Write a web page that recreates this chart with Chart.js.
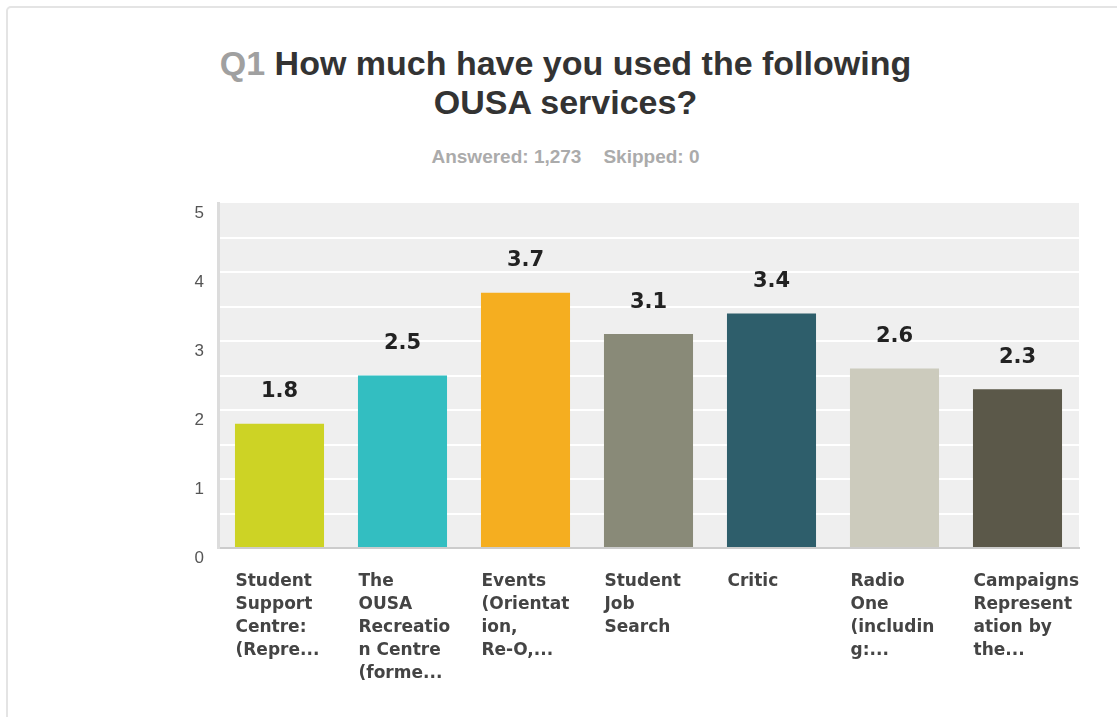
<!DOCTYPE html>
<html>
<head>
<meta charset="utf-8">
<script src="https://cdn.jsdelivr.net/npm/chart.js@4"></script>
<style>
    html, body {
        margin: 0;
        padding: 0;
        width: 1117px;
        height: 717px;
        overflow: hidden;
        background: #fff;
    }
    .card {
        position: absolute;
        left: 6px;
        top: 6px;
        width: 1200px;
        height: 800px;
        border: 2px solid #e4e4e4;
        border-radius: 5px;
        box-sizing: border-box;
    }
    .titolo {
        position: absolute;
        left: 0;
        top: 44px;
        width: 1131px;
        text-align: center;
        font: bold 34px "Liberation Sans", Arial, sans-serif;
        line-height: 39px;
        color: #333;
    }
    .titolo .num {
        color: #a0a0a0;
    }
    .sottotitolo {
        position: absolute;
        left: 0;
        top: 146px;
        width: 1131px;
        text-align: center;
        font: bold 19px "Liberation Sans", Arial, sans-serif;
        line-height: 22px;
        color: #ababab;
    }
    .sottotitolo span + span {
        margin-left: 22px;
    }
    #grafico {
        position: absolute;
        left: 0;
        top: 0;
    }
</style>
</head>
<body>
<div class="card"></div>
<div class="titolo"><span class="num">Q1</span> How much have you used the following<br>OUSA services?</div>
<div class="sottotitolo"><span>Answered: 1,273</span><span>Skipped: 0</span></div>
<canvas id="grafico" width="1117" height="717"></canvas>

<script>
/* =======================
   DATI
======================= */

const categorie = [
    ["Student", "Support", "Centre:", "(Repre..."],
    ["The", "OUSA", "Recreatio", "n Centre", "(forme..."],
    ["Events", "(Orientat", "ion,", "Re-O,..."],
    ["Student", "Job", "Search"],
    ["Critic"],
    ["Radio", "One", "(includin", "g:..."],
    ["Campaigns", "Represent", "ation by", "the..."]
];

const medie = [1.8, 2.5, 3.7, 3.1, 3.4, 2.6, 2.3];

const colori = ["#cdd325", "#33bec1", "#f5ae20", "#898a78", "#2e5e6b", "#cccbbd", "#5b5849"];

const yMin = 0;
const yMax = 5;
const yPasso = 0.5;

/* =======================
   PLUGIN
======================= */

// sfondo grigio dell'area del grafico
const sfondoArea = {
    id: "sfondoArea",
    beforeDraw(chart) {
        const { ctx, chartArea: a } = chart;
        ctx.save();
        ctx.fillStyle = "#efefef";
        ctx.fillRect(a.left, a.top, a.right - a.left, a.bottom - a.top);
        ctx.restore();
    }
};

// valori sopra le barre
const etichetteValori = {
    id: "etichetteValori",
    afterDatasetsDraw(chart) {
        const { ctx } = chart;
        const meta = chart.getDatasetMeta(0);
        ctx.save();
        ctx.font = "bold 21px 'DejaVu Sans', Verdana, sans-serif";
        ctx.fillStyle = "#222";
        ctx.textAlign = "center";
        ctx.textBaseline = "middle";
        meta.data.forEach((bar, i) => {
            ctx.fillText(medie[i].toFixed(1), bar.x, bar.y - 32);
        });
        ctx.restore();
    }
};

/* =======================
   GRAFICO
======================= */

new Chart(document.getElementById("grafico"), {
    type: "bar",
    data: {
        labels: categorie,
        datasets: [{
            data: medie,
            backgroundColor: colori,
            borderWidth: 0,
            barPercentage: 0.724,
            categoryPercentage: 1
        }]
    },
    options: {
        responsive: false,
        animation: false,
        layout: {
            padding: { left: 150, right: 38, top: 203, bottom: 0 }
        },
        plugins: {
            legend: { display: false },
            tooltip: { enabled: false }
        },
        scales: {
            x: {
                grid: { display: false, drawTicks: false },
                border: { display: true, color: "#cccccc", width: 2 },
                ticks: {
                    align: "start",
                    labelOffset: -44,
                    padding: 22,
                    autoSkip: false,
                    minRotation: 0,
                    maxRotation: 0,
                    color: "#444",
                    font: { family: "'DejaVu Sans', Verdana, sans-serif", size: 17, weight: "bold", lineHeight: "23px" }
                },
                afterFit(scale) {
                    scale.height = 717 - 548;
                    scale.paddingLeft = 0;
                    scale.paddingRight = 0;
                }
            },
            y: {
                min: yMin,
                max: yMax,
                grid: {
                    drawTicks: false,
                    lineWidth: 2,
                    color: c => (c.tick && (c.tick.value === yMin || c.tick.value === yMax)) ? "rgba(0,0,0,0)" : "#ffffff"
                },
                border: { display: true, color: "#dcdcdc", width: 3 },
                ticks: {
                    stepSize: yPasso,
                    padding: 14,
                    labelOffset: 10,
                    color: "#555",
                    font: { family: "'Liberation Sans', Arial, sans-serif", size: 17 },
                    callback: v => Number.isInteger(v) ? String(v) : ""
                },
                afterFit(scale) {
                    scale.width = 218 - 150;
                    scale.paddingTop = 0;
                    scale.paddingBottom = 0;
                }
            }
        }
    },
    plugins: [sfondoArea, etichetteValori]
});
</script>
</body>
</html>
